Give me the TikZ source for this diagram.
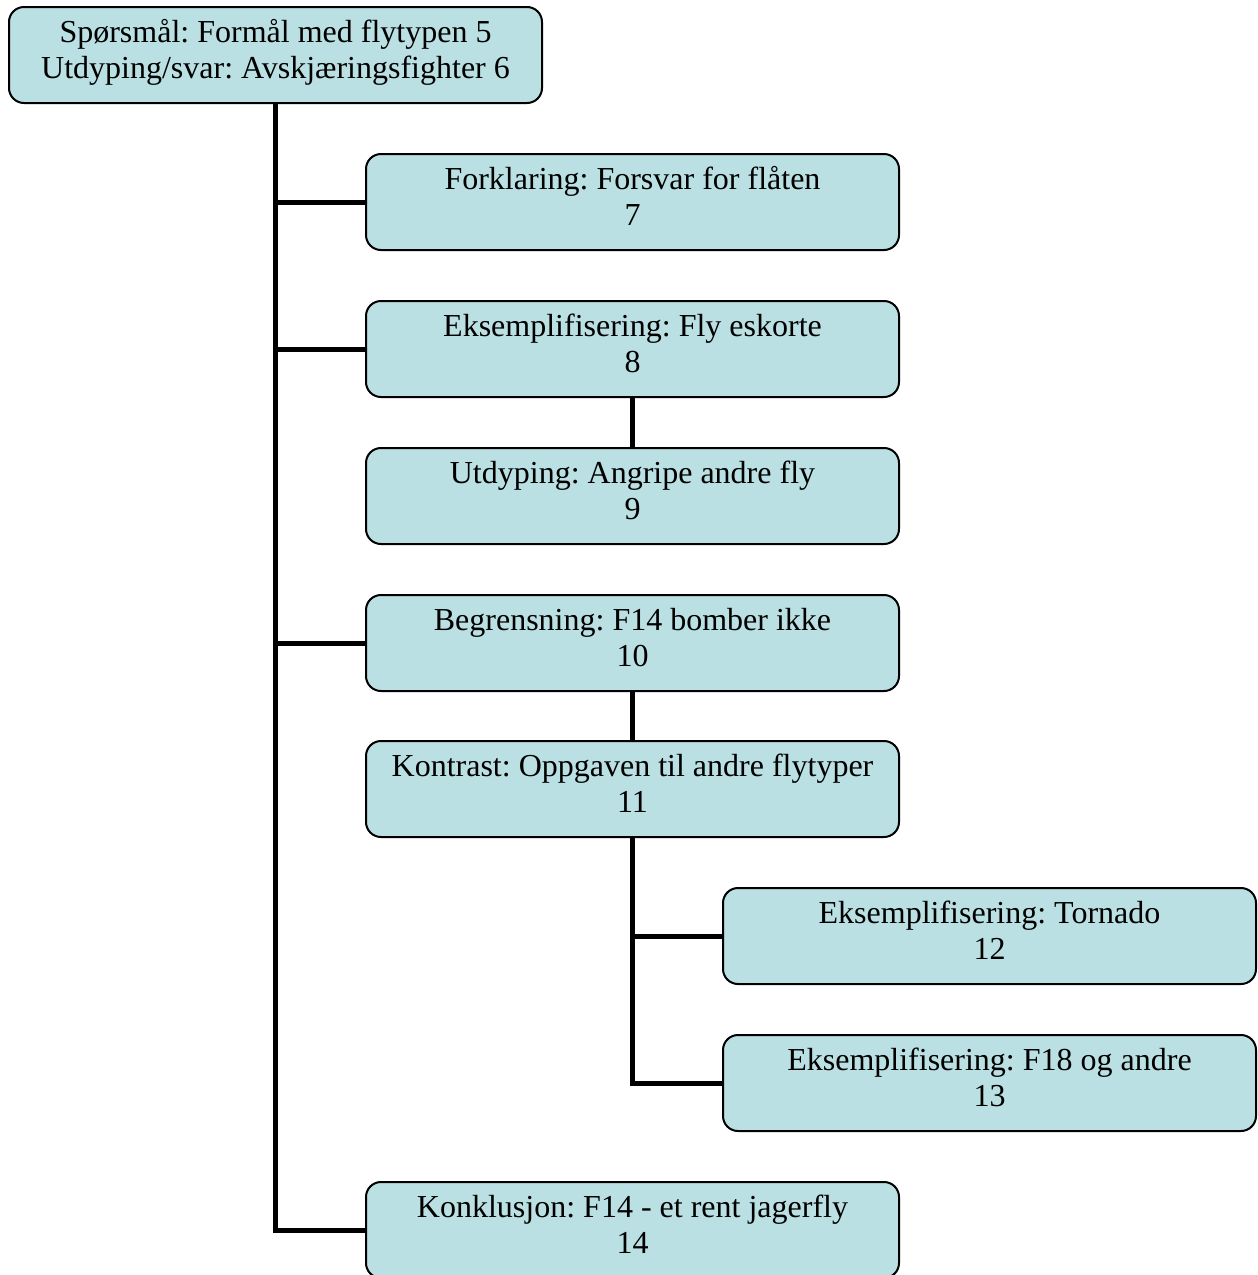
\documentclass[tikz,border=0pt]{standalone}
\usepackage{fontspec}
\setmainfont{Liberation Serif}
\frenchspacing
\definecolor{boxfill}{RGB}{186,224,227}
% two centred lines; the first baseline sits 13pt above the box centre
\newcommand{\twolines}[2]{\raisebox{0pt}[24pt][50pt]{\begin{tabular}[t]{@{}c@{}}#1\\#2\end{tabular}}}
\begin{document}
\begin{tikzpicture}[x=1pt,y=-1pt,
  textbox/.style={draw=black, line width=2pt, fill=boxfill, rounded corners=15pt,
    minimum width=533pt, minimum height=96pt, inner sep=0pt,
    font=\fontsize{32}{36.8}\selectfont},
  link/.style={draw=black, line width=5pt}]
\useasboundingbox (0,0) rectangle (1258,1275);

\node[textbox] (q)   at (275.5,55)  {\twolines{Spørsmål: Formål med flytypen 5}{Utdyping/svar: Avskjæringsfighter 6}};
\node[textbox] (b7)  at (632.5,202) {\twolines{Forklaring: Forsvar for flåten}{7}};
\node[textbox] (b8)  at (632.5,349) {\twolines{Eksemplifisering: Fly eskorte}{8}};
\node[textbox] (b9)  at (632.5,496) {\twolines{Utdyping: Angripe andre fly}{9}};
\node[textbox] (b10) at (632.5,643) {\twolines{Begrensning: F14 bomber ikke}{10}};
\node[textbox] (b11) at (632.5,789) {\twolines{Kontrast: Oppgaven til andre flytyper}{11}};
\node[textbox] (b12) at (989.5,936) {\twolines{Eksemplifisering: Tornado}{12}};
\node[textbox] (b13) at (989.5,1083) {\twolines{Eksemplifisering: F18 og andre}{13}};
\node[textbox] (b14) at (632.5,1230) {\twolines{Konklusjon: F14 - et rent jagerfly}{14}};

% main trunk from the question box
\draw[link] (q.south) -- (q.south |- b14.west) -- (b14.west);
\draw[link] (q.south |- b7.west) -- (b7.west);
\draw[link] (q.south |- b8.west) -- (b8.west);
\draw[link] (q.south |- b10.west) -- (b10.west);

% chained boxes
\draw[link] (b8.south) -- (b9.north);
\draw[link] (b10.south) -- (b11.north);

% branch below the contrast box
\draw[link] (b11.south) -- (b11.south |- b13.west) -- (b13.west);
\draw[link] (b11.south |- b12.west) -- (b12.west);
\end{tikzpicture}
\end{document}
